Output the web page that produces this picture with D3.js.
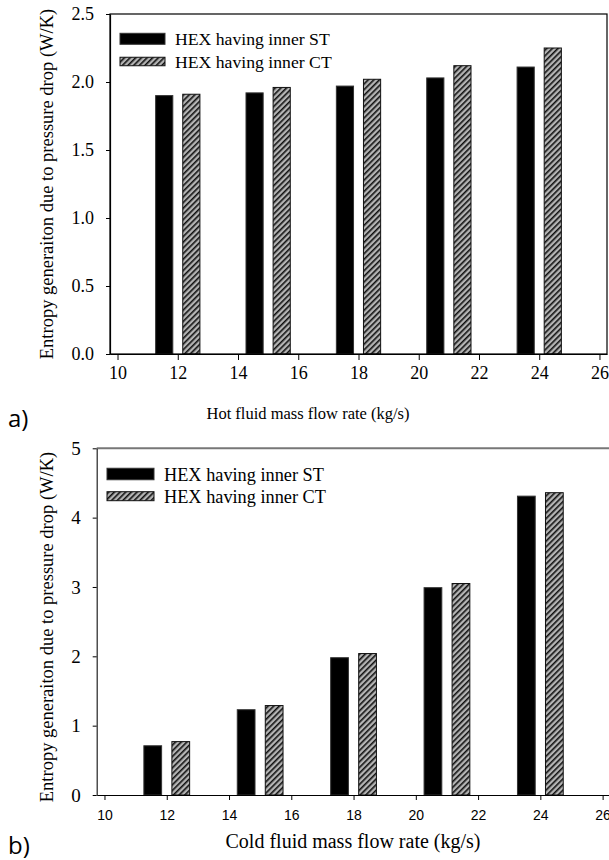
<!DOCTYPE html>
<html>
<head>
<meta charset="utf-8">
<script src="https://cdn.jsdelivr.net/npm/d3@7"></script>
<style>
  html, body { margin: 0; padding: 0; background: #fff; }
  svg { display: block; }
  .serif { font-family: "Liberation Serif", "Times New Roman", serif; }
  .sans { font-family: "Liberation Sans", Arial, sans-serif; }
</style>
</head>
<body>
<svg id="chart" width="609" height="860"></svg>
<script>
// Mass flow rates (kg/s) at which each pair of bars is drawn
const flowRates = [12, 15, 18, 21, 24];
const seriesNames = ["HEX having inner ST", "HEX having inner CT"];

// (a) entropy generation vs hot fluid mass flow rate (W/K)
const hotST = [1.90, 1.92, 1.97, 2.03, 2.11];
const hotCT = [1.91, 1.96, 2.02, 2.12, 2.25];

// (b) entropy generation vs cold fluid mass flow rate (W/K)
const coldST = [0.71, 1.23, 1.98, 2.99, 4.31];
const coldCT = [0.77, 1.29, 2.04, 3.05, 4.36];

const xTicks = [10, 12, 14, 16, 18, 20, 22, 24, 26];
const yTicksA = [0, 0.5, 1.0, 1.5, 2.0, 2.5];
const yTicksB = [0, 1, 2, 3, 4, 5];

const svg = d3.select("#chart");

// diagonal hatch for the CT series
const defs = svg.append("defs");
const pat = defs.append("pattern")
  .attr("id", "hatch")
  .attr("patternUnits", "userSpaceOnUse")
  .attr("width", 4).attr("height", 4)
  .attr("patternTransform", "rotate(45)");
pat.append("rect").attr("width", 4).attr("height", 4).attr("fill", "#b4b4b4");
pat.append("rect").attr("x", 0).attr("y", 0).attr("width", 1.6).attr("height", 4).attr("fill", "#111");

function drawPanel(opt) {
  const g = svg.append("g");
  const x = d3.scaleLinear().domain([9.75, 26.25]).range([opt.left, opt.right]);
  const y = d3.scaleLinear().domain(opt.yDomain).range([opt.bottom, opt.top]);
  const barW = x(0.57) - x(0);
  const offset = 0.45;

  // bars
  [opt.st, opt.ct].forEach((vals, si) => {
    g.selectAll(null)
      .data(flowRates.map((f, i) => ({ f, v: vals[i] })))
      .enter().append("rect")
      .attr("x", d => x(d.f + (si === 0 ? -offset : offset)) - barW / 2)
      .attr("y", d => y(d.v))
      .attr("width", barW)
      .attr("height", d => y(0) - y(d.v))
      .attr("fill", si === 0 ? "#000" : "url(#hatch)")
      .attr("stroke", si === 0 ? "#333" : "#111")
      .attr("stroke-width", 1);
  });

  // frame
  if (opt.fullFrame) {
    g.append("rect")
      .attr("x", opt.left).attr("y", opt.top)
      .attr("width", opt.right - opt.left).attr("height", opt.bottom - opt.top)
      .attr("fill", "none").attr("stroke", "#000").attr("stroke-width", 1.2);
  } else {
    g.append("line")
      .attr("x1", opt.left).attr("x2", opt.right)
      .attr("y1", opt.top).attr("y2", opt.top)
      .attr("stroke", "#777").attr("stroke-width", 2);
  }

  // x axis
  const xa = g.append("g")
    .attr("transform", `translate(0,${opt.bottom})`)
    .call(d3.axisBottom(x).tickValues(xTicks).tickSize(opt.xTickLen).tickSizeOuter(0).tickPadding(opt.xPad));
  xa.attr("font-family", null).attr("font-size", null);
  xa.select(".domain").attr("stroke", "#000").attr("stroke-width", 1.2);
  xa.selectAll(".tick line").attr("stroke", "#000");
  xa.selectAll(".tick text")
    .attr("class", opt.xFontClass)
    .style("font-size", opt.xFontSize + "px").attr("fill", "#000");

  // y axis
  const ya = g.append("g")
    .attr("transform", `translate(${opt.left},0)`)
    .call(d3.axisLeft(y).tickValues(opt.yTicks).tickFormat(opt.yFormat).tickSize(4).tickSizeOuter(0).tickPadding(opt.yPad));
  ya.attr("font-family", null).attr("font-size", null);
  ya.select(".domain").attr("stroke", opt.yAxisColor).attr("stroke-width", 1.2);
  ya.selectAll(".tick line").attr("stroke", "#000");
  ya.selectAll(".tick text")
    .attr("class", "serif")
    .style("font-size", opt.yFontSize + "px").attr("fill", "#000");

  // legend
  seriesNames.forEach((name, i) => {
    const ly = opt.legendY[i];
    g.append("rect")
      .attr("x", opt.legendX).attr("y", ly - opt.swatchH[i] / 2)
      .attr("width", opt.swatchW).attr("height", opt.swatchH[i])
      .attr("fill", i === 0 ? "#000" : "url(#hatch)")
      .attr("stroke", i === 0 ? "#333" : "#111").attr("stroke-width", 1);
    g.append("text")
      .attr("class", "serif")
      .attr("x", opt.legendX + opt.swatchW + 10)
      .attr("y", ly + 6.5)
      .style("font-size", opt.legendFontSize + "px")
      .text(name);
  });

  // titles
  g.append("text")
    .attr("class", "serif")
    .attr("x", opt.xTitleX).attr("y", opt.xTitleY)
    .attr("text-anchor", "middle")
    .style("font-size", opt.xTitleSize + "px")
    .text(opt.xTitle);
  g.append("text")
    .attr("class", "serif")
    .attr("transform", `translate(53,${opt.yTitleY}) rotate(-90)`)
    .attr("text-anchor", "middle")
    .style("font-size", "18.5px")
    .text("Entropy generaiton due to pressure drop (W/K)");

  g.append("text")
    .attr("x", 8).attr("y", opt.panelLabelY)
    .style("font-family", "'Open Sans', 'Noto Sans', sans-serif")
    .style("font-size", "24px")
    .text(opt.panelLabel);
}

drawPanel({
  left: 110, right: 607, top: 14, bottom: 354,
  yDomain: [0, 2.5], yTicks: yTicksA, yFormat: d3.format(".1f"),
  st: hotST, ct: hotCT,
  fullFrame: true, yAxisColor: "#000",
  xTickLen: 6, xPad: 6, xFontClass: "serif", xFontSize: 18,
  yPad: 12, yFontSize: 18,
  legendX: 120, legendY: [38.8, 61.5], swatchW: 45, swatchH: [11, 8.5], legendFontSize: 17.7,
  xTitle: "Hot fluid mass flow rate (kg/s)", xTitleX: 308, xTitleY: 419, xTitleSize: 16.5,
  yTitleY: 184,
  panelLabel: "a)", panelLabelY: 427
});

drawPanel({
  left: 96.7, right: 610.4, top: 448.3, bottom: 795,
  yDomain: [0, 5], yTicks: yTicksB, yFormat: d3.format("d"),
  st: coldST, ct: coldCT,
  fullFrame: false, yAxisColor: "#222",
  xTickLen: 5, xPad: 10, xFontClass: "sans", xFontSize: 14,
  yPad: 12, yFontSize: 19,
  legendX: 107, legendY: [474, 496.2], swatchW: 47, swatchH: [11.5, 9], legendFontSize: 18.3,
  xTitle: "Cold fluid mass flow rate (kg/s)", xTitleX: 353, xTitleY: 848, xTitleSize: 20,
  yTitleY: 627,
  panelLabel: "b)", panelLabelY: 854
});
</script>
</body>
</html>
